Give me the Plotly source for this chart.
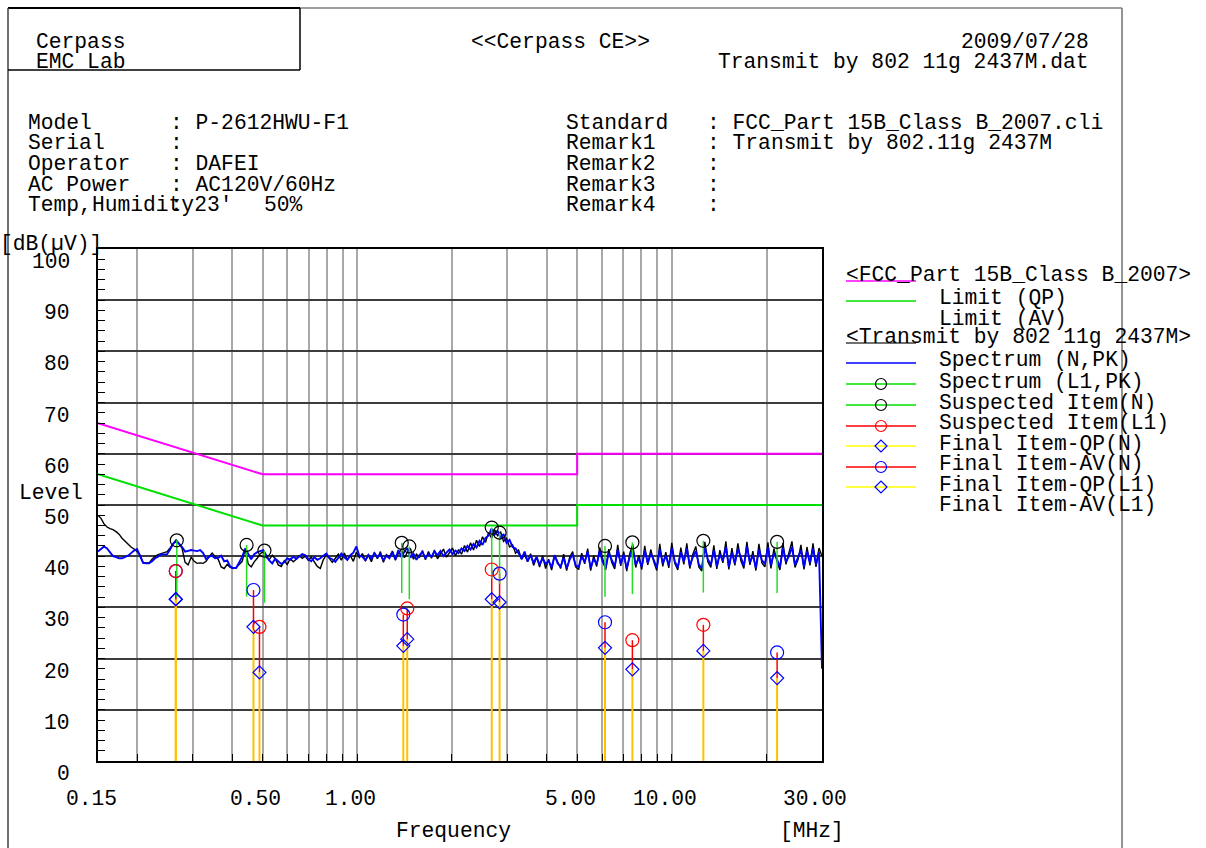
import numpy as np
import plotly.graph_objects as go

W, H = 1206, 848
FONT = "Courier New, Liberation Mono, monospace"
FS = 21.3

# ---------------- limit lines (FCC Part 15B Class B) ----------------
limit_freq = [0.15, 0.5, 0.5, 5.0, 5.0, 30.0]
limit_qp = [66, 56, 56, 56, 60, 60]
limit_av = [56, 46, 46, 46, 50, 50]

# ---------------- swept spectra, 0.15 - 30 MHz ----------------
spectrum_n = [
    40.9, 41.5, 41.9, 41.5, 40.8, 40.0, 39.8, 39.6, 39.6, 39.8,
    40.1, 40.6, 41.1, 41.4, 40.2, 38.7, 38.6, 38.6, 39.0, 39.6,
    39.9, 40.4, 40.3, 40.4, 41.3, 42.4, 43.0, 42.4, 41.8, 40.9,
    41.1, 41.2, 41.1, 41.0, 41.2, 40.6, 39.4, 39.9, 40.1, 39.6,
    39.7, 40.1, 39.0, 39.2, 38.0, 37.7, 37.7, 38.8, 39.9, 41.5,
    40.5, 39.4, 40.4, 40.8, 41.0, 41.2, 40.2, 39.2, 38.6, 39.5,
    39.0, 38.5, 38.8, 39.6, 39.3, 39.9, 39.5, 39.9, 40.4, 40.2,
    39.4, 39.0, 39.8, 39.3, 39.6, 40.1, 40.5, 39.7, 39.4, 38.9,
    39.6, 40.5, 39.8, 39.3, 40.2, 40.7, 41.9, 40.1, 39.9, 39.2,
    40.3, 39.5, 40.6, 39.8, 40.4, 39.2, 40.1, 39.6, 40.8, 39.4,
    41.2, 39.8, 40.9, 41.6, 39.7, 40.5, 39.3, 40.2, 40.8, 39.6,
    40.4, 39.9, 40.9, 40.2, 41.0, 40.0, 40.7, 41.3, 40.4, 41.1,
    40.6, 41.5, 41.0, 42.0, 41.3, 42.4, 41.7, 43.0, 42.2, 43.6,
    44.0, 45.4, 44.2, 45.0, 43.6, 44.3, 42.6, 43.2, 41.8, 41.5,
    40.6, 39.5, 40.9, 39.0, 40.2, 38.7, 39.9, 38.3, 39.6, 38.5,
    39.1, 37.8, 40.2, 38.6, 38.0, 39.7, 37.6, 39.3, 40.4, 38.2,
    37.9, 40.0, 38.8, 40.9, 37.7, 39.5, 38.4, 41.0, 38.9, 37.8,
    40.6, 39.2, 38.0, 41.2, 38.5, 40.3, 37.6, 39.9, 41.4, 38.3,
    39.6, 37.9, 41.1, 38.7, 40.5, 39.3, 37.7, 41.3, 38.6, 40.1,
    38.2, 41.6, 39.0, 37.8, 40.8, 38.9, 41.5, 38.1, 39.8, 41.0,
    38.4, 37.6, 41.7, 39.4, 38.3, 41.2, 38.0, 40.4, 39.1, 41.8,
    37.9, 40.7, 38.6, 41.4, 39.6, 38.1, 41.9, 38.8, 40.2, 37.7,
    41.3, 39.2, 38.5, 41.7, 38.2, 40.6, 39.5, 37.8, 41.6, 38.9,
    40.0, 41.8, 38.3, 39.7, 41.2, 37.9, 40.9, 38.7, 41.5, 38.4,
    40.8, 18.0,
]
spectrum_l1 = [
    48.0, 47.4, 46.3, 45.7, 45.4, 45.2, 44.8, 44.3, 43.5, 42.9,
    42.3, 41.8, 41.4, 40.9, 40.2, 38.8, 38.7, 38.7, 39.4, 40.0,
    40.3, 40.5, 40.8, 40.9, 41.6, 42.5, 43.2, 42.5, 41.5, 38.8,
    38.3, 39.8, 39.0, 38.6, 38.7, 38.6, 39.0, 39.9, 40.6, 39.9,
    39.4, 37.9, 37.6, 38.4, 37.8, 37.6, 37.8, 38.4, 39.0, 41.4,
    38.5, 37.9, 38.9, 39.6, 40.5, 40.9, 39.8, 39.3, 40.2, 39.5,
    38.3, 38.0, 39.1, 38.4, 39.5, 38.9, 39.4, 40.1, 39.6, 40.0,
    39.2, 39.8, 38.8, 38.0, 37.6, 39.3, 40.3, 39.5, 38.8, 39.6,
    40.4, 39.2, 40.6, 39.3, 40.1, 39.0, 40.8, 39.7, 40.5, 39.1,
    40.2, 38.9, 40.7, 39.5, 40.9, 38.8, 40.3, 39.9, 41.0, 39.2,
    40.6, 41.3, 39.7, 40.8, 41.5, 39.4, 40.4, 39.8, 41.1, 39.3,
    40.9, 39.6, 41.2, 39.5, 40.6, 41.4, 39.8, 40.8, 41.6, 40.1,
    41.3, 40.4, 42.1, 40.8, 42.6, 41.2, 43.1, 41.9, 43.8, 42.7,
    44.6, 43.5, 45.2, 44.0, 44.8, 42.9, 43.5, 41.8, 42.2, 40.6,
    41.2, 39.4, 40.3, 38.9, 40.5, 38.2, 39.8, 37.9, 40.1, 37.6,
    39.4, 37.3, 40.2, 38.9, 37.6, 40.4, 37.2, 39.8, 40.9, 37.9,
    37.4, 40.6, 38.5, 41.5, 37.2, 40.1, 38.0, 41.7, 39.2, 37.3,
    41.4, 38.8, 37.5, 42.2, 38.1, 40.9, 37.1, 40.5, 42.3, 37.8,
    40.2, 37.4, 42.0, 38.3, 41.3, 38.9, 37.2, 42.4, 38.0, 40.8,
    37.7, 42.6, 38.6, 37.3, 41.7, 38.4, 42.5, 37.6, 40.4, 41.9,
    37.9, 37.1, 42.8, 38.9, 37.8, 42.1, 37.5, 41.2, 38.7, 42.9,
    37.4, 41.6, 38.2, 42.5, 39.1, 37.6, 42.8, 38.3, 41.0, 37.2,
    42.4, 38.7, 37.9, 42.7, 37.6, 41.5, 39.0, 37.3, 42.6, 38.4,
    40.7, 42.9, 37.8, 39.3, 42.2, 37.4, 41.8, 38.2, 42.5, 37.9,
    41.6, 40.0,
]
freq_n = np.geomspace(0.15, 30.0, len(spectrum_n))
freq_l1 = np.geomspace(0.15, 30.0, len(spectrum_l1))

# ---------------- suspected peaks ----------------
susp_freq = [0.267, 0.445, 0.507, 1.385, 1.464, 2.676, 2.834, 6.13, 7.49, 12.59, 21.6]
susp_level = [43.1, 42.2, 41.1, 42.6, 41.9, 45.6, 44.6, 42.0, 42.7, 43.0, 42.8]
susp_floor = [32.0, 32.1, 30.9, 32.8, 31.6, 35.6, 34.6, 32.1, 32.6, 32.9, 32.8]

# ---------------- final measurements ----------------
final_l1_freq = [0.265, 0.489, 1.442, 2.676, 7.49, 12.59]
final_l1_av = [37.1, 26.2, 29.8, 37.4, 23.6, 26.6]
final_l1_qp = [31.6, 17.3, 23.8, 31.6, 17.9, 21.5]
final_n_freq = [0.265, 0.468, 1.401, 2.834, 6.13, 21.6]
final_n_av = [37.1, 33.4, 28.6, 36.6, 27.1, 21.2]
final_n_qp = [31.6, 26.2, 22.5, 31.0, 22.1, 16.2]

# ---------------- axis labels ----------------
y_tick_values = [0, 10, 20, 30, 40, 50, 60, 70, 80, 90, 100]
x_tick_values = [0.15, 0.5, 1.0, 5.0, 10.0, 30.0]
x_tick_labels = ["0.15", "0.50", "1.00", "5.00", "10.00", "30.00"]
x_grid_values = [0.2, 0.3, 0.4, 0.5, 0.6, 0.7, 0.8, 0.9, 1, 2, 3, 4, 5, 6, 7, 8, 9, 10, 20]

header_left = [("Model", ": P-2612HWU-F1"), ("Serial", ":"), ("Operator", ": DAFEI"),
               ("AC Power", ": AC120V/60Hz")]
header_right = [("Standard", ": FCC_Part 15B_Class B_2007.cli"),
                ("Remark1", ": Transmit by 802.11g 2437M"),
                ("Remark2", ":"), ("Remark3", ":"), ("Remark4", ":")]
legend_rows = ["Limit (QP)", "Limit (AV)", "Spectrum (N,PK)", "Spectrum (L1,PK)",
               "Suspected Item(N)", "Suspected Item(L1)", "Final Item-QP(N)",
               "Final Item-AV(N)", "Final Item-QP(L1)", "Final Item-AV(L1)"]


def nb(s):
    return s.replace(" ", "\u00a0")


def px(x):
    return x / W


def py(y):
    return 1 - y / H


def stems(xs, lo, hi):
    sx, sy = [], []
    for f, a, b in zip(xs, lo, hi):
        sx += [f, f, None]
        sy += [a, b, None]
    return sx, sy


fig = go.Figure()

# spectra
fig.add_trace(go.Scatter(x=freq_l1, y=spectrum_l1, mode="lines",
                         line=dict(color="#000000", width=1.4)))
fig.add_trace(go.Scatter(x=freq_n, y=spectrum_n, mode="lines",
                         line=dict(color="#0000FF", width=1.9)))

# limits
fig.add_trace(go.Scatter(x=limit_freq, y=limit_qp, mode="lines",
                         line=dict(color="#FF00FF", width=2)))
fig.add_trace(go.Scatter(x=limit_freq, y=limit_av, mode="lines",
                         line=dict(color="#00E000", width=2)))

# QP stems down to the floor
for fr, qp in ((final_l1_freq, final_l1_qp), (final_n_freq, final_n_qp)):
    sx, sy = stems(fr, [0] * len(fr), qp)
    fig.add_trace(go.Scatter(x=sx, y=sy, mode="lines",
                             line=dict(color="#FFC000", width=2)))
# AV-to-QP stems
for fr, qp, av in ((final_l1_freq, final_l1_qp, final_l1_av),
                   (final_n_freq, final_n_qp, final_n_av)):
    sx, sy = stems(fr, qp, av)
    fig.add_trace(go.Scatter(x=sx, y=sy, mode="lines",
                             line=dict(color="#FF0000", width=1.5)))
# suspected stems
sx, sy = stems(susp_freq, susp_floor, susp_level)
fig.add_trace(go.Scatter(x=sx, y=sy, mode="lines",
                         line=dict(color="#22DD22", width=1.5)))

# markers
fig.add_trace(go.Scatter(x=susp_freq, y=susp_level, mode="markers",
                         marker=dict(symbol="circle-open", size=13, color="#000000",
                                     line=dict(width=1.2))))
fig.add_trace(go.Scatter(x=final_n_freq, y=final_n_av, mode="markers",
                         marker=dict(symbol="circle-open", size=13, color="#0000FF",
                                     line=dict(width=1.2))))
fig.add_trace(go.Scatter(x=final_l1_freq, y=final_l1_av, mode="markers",
                         marker=dict(symbol="circle-open", size=13, color="#FF0000",
                                     line=dict(width=1.2))))
fig.add_trace(go.Scatter(x=final_n_freq + final_l1_freq, y=final_n_qp + final_l1_qp,
                         mode="markers",
                         marker=dict(symbol="diamond-open", size=10, color="#0000FF",
                                     line=dict(width=1.2))))

shapes = []
# darker decade lines
for v in (1, 10):
    shapes.append(dict(type="line", xref="x", yref="y", x0=np.log10(v), x1=np.log10(v),
                       y0=0, y1=100, line=dict(color="#000000", width=1.5), layer="below"))


def pline(x0, y0, x1, y1, color, width):
    shapes.append(dict(type="line", xref="paper", yref="paper",
                       x0=px(x0), y0=py(y0), x1=px(x1), y1=py(y1),
                       line=dict(color=color, width=width)))


# page frame
pline(8, 8, 1122, 8, "#808080", 1.5)
pline(8, 8, 300, 8, "#000000", 2)
pline(8, 8, 8, 848, "#404040", 1.5)
pline(1122, 8, 1122, 848, "#707070", 1.5)
pline(8, 70, 300, 70, "#000000", 1.5)
pline(300, 8, 300, 70, "#000000", 1.5)

# legend swatches
LX0, LX1, LXC = 846, 916, 881
swatches = [
    (281, "#FF00FF", None, None),
    (301, "#00E000", None, None),
    (343, "#404040", None, None),
    (363, "#0000FF", None, None),
    (384, "#00E000", "circle", "#000000"),
    (405, "#00E000", "circle", "#000000"),
    (426, "#FF0000", "circle", "#FF0000"),
    (446, "#FFFF00", "diamond", "#0000FF"),
    (467, "#FF0000", "circle", "#0000FF"),
    (487, "#FFFF00", "diamond", "#0000FF"),
]
for yy, lc, sym, mc in swatches:
    pline(LX0, yy, LX1, yy, lc, 1.5)
    if sym == "circle":
        r = 5.5
        shapes.append(dict(type="circle", xref="paper", yref="paper",
                           x0=px(LXC - r), x1=px(LXC + r), y0=py(yy + r), y1=py(yy - r),
                           line=dict(color=mc, width=1.2), fillcolor="rgba(0,0,0,0)"))
    elif sym == "diamond":
        r = 6
        path = "M {a},{b} L {c},{d} L {e},{f} L {g},{h} Z".format(
            a=px(LXC - r), b=py(yy), c=px(LXC), d=py(yy - r),
            e=px(LXC + r), f=py(yy), g=px(LXC), h=py(yy + r))
        shapes.append(dict(type="path", xref="paper", yref="paper", path=path,
                           line=dict(color=mc, width=1.2)))

annotations = []


def text(x, y, s, anchor="left", size=FS):
    dx = -2 if anchor == "left" else (2 if anchor == "right" else 0)
    annotations.append(dict(xref="paper", yref="paper", x=px(x + dx), y=py(y + 1), text=nb(s),
                            xanchor=anchor, yanchor="middle", showarrow=False,
                            font=dict(family=FONT, size=size, color="#000000")))


text(36, 41, "Cerpass")
text(36, 61, "EMC Lab")
text(471, 41, "<<Cerpass CE>>")
text(1089, 41, "2009/07/28", "right")
text(1089, 61, "Transmit by 802 11g 2437M.dat", "right")

row_y = [122, 142, 163, 184, 204]
for (lab, val), yy in zip(header_left, row_y):
    text(28, yy, lab)
    text(170, yy, val)
text(28, 204, "Temp,Humidity23'")
text(170, 204, ":")
text(264, 204, "50%")
for (lab, val), yy in zip(header_right, row_y):
    text(566, yy, lab)
    text(707, yy, val)

text(0, 243, "[dB(µV)]")
text(19, 492, "Level")
text(453, 830, "Frequency", "center")
text(812, 830, "[MHz]", "center")

# legend text
text(846, 274, "<FCC_Part 15B_Class B_2007>")
text(846, 336, "<Transmit by 802 11g 2437M>")
legend_y = [297, 318, 359, 381, 402, 422, 443, 463, 484, 504]
for s, yy in zip(legend_rows, legend_y):
    text(939, yy, s)

# tick labels
for v in y_tick_values:
    annotations.append(dict(xref="paper", yref="y", x=px(72), y=v, yshift=-13,
                            text=str(v), xanchor="right", yanchor="middle",
                            showarrow=False, font=dict(family=FONT, size=FS, color="#000000")))
for v, lab in zip(x_tick_values, x_tick_labels):
    annotations.append(dict(xref="x", yref="paper", x=np.log10(v), y=py(799), xshift=-7,
                            text=lab, xanchor="center", yanchor="middle",
                            showarrow=False, font=dict(family=FONT, size=FS, color="#000000")))

fig.update_layout(
    width=W, height=H, autosize=False,
    margin=dict(l=0, r=0, t=0, b=0),
    paper_bgcolor="#FFFFFF", plot_bgcolor="rgba(0,0,0,0)",
    showlegend=False,
    shapes=shapes, annotations=annotations,
    xaxis=dict(type="log", domain=[px(98), px(822)],
               range=[np.log10(0.15), np.log10(30)],
               tickvals=x_grid_values, showticklabels=False,
               ticks="inside", ticklen=7, tickcolor="#000000", tickwidth=1,
               showgrid=True, gridcolor="#A8A8A8", gridwidth=1.5,
               showline=True, linecolor="#000000", linewidth=1.5, mirror=True,
               zeroline=False, fixedrange=True),
    yaxis=dict(domain=[py(761), py(249)], range=[0, 100],
               tickvals=y_tick_values, showticklabels=False,
               ticks="inside", ticklen=7, tickcolor="#000000", tickwidth=1,
               minor=dict(dtick=2, ticks="inside", ticklen=7, tickcolor="#000000",
                          showgrid=False),
               showgrid=True, gridcolor="#3C3C3C", gridwidth=1.5,
               showline=True, linecolor="#000000", linewidth=1.5, mirror=True,
               zeroline=False, fixedrange=True),
)

fig.write_html("out.html")
